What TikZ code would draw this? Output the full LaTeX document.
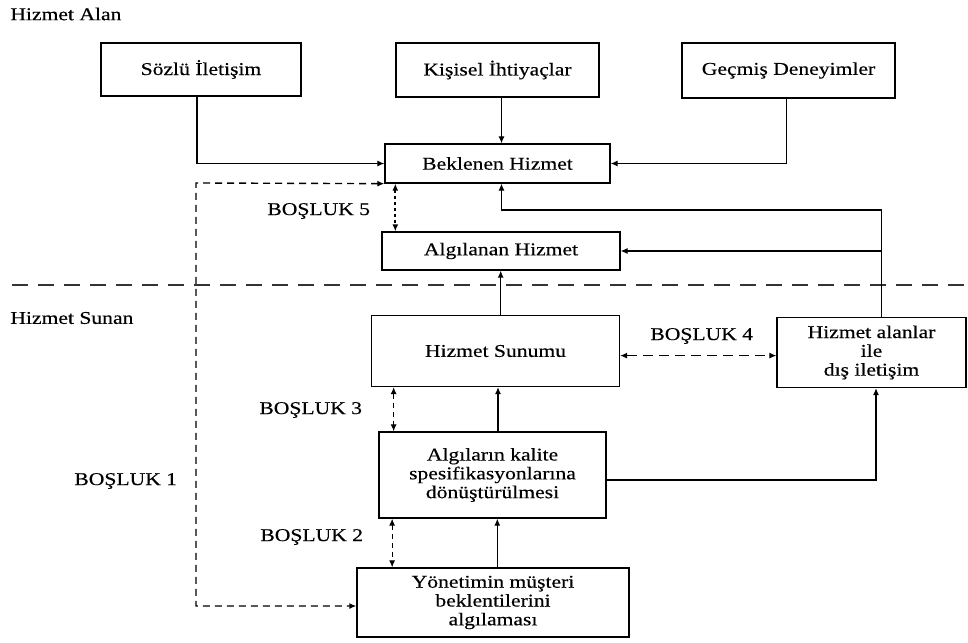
\documentclass[tikz,border=0pt]{standalone}
\usepackage{fontspec}
\setmainfont[FakeStretch=1.2,FakeBold=0.35]{Liberation Serif}
\usetikzlibrary{arrows.meta}
\newcommand{\lblfont}{\fontsize{9}{9.4}\selectfont}
\tikzset{
  box/.style={draw, line width=0.65pt, inner sep=1pt, align=center, font=\lblfont},
  lbl/.style={inner sep=0pt, anchor=west, font=\lblfont},
  tip/.style={-{Latex[length=3.5pt,width=3pt]}},
  arr/.style={line width=0.55pt, tip},
  twoway/.style={line width=0.55pt, {Latex[length=3.5pt,width=3pt]}-{Latex[length=3.5pt,width=3pt]}},
  gapone/.style={twoway, line width=0.7pt, dash pattern=on 3.5pt off 2.5pt},
  gapfive/.style={twoway, line width=1pt, dash pattern=on 1.5pt off 1.5pt},
  gapshort/.style={twoway, dash pattern=on 2.5pt off 2pt},
  gapfour/.style={twoway, dash pattern=on 5pt off 3pt},
  sepline/.style={line width=0.7pt, black!80, dash pattern=on 8pt off 5pt},
}
\begin{document}
\begin{tikzpicture}[x=0.5pt, y=-0.5pt]
\useasboundingbox (0,0) rectangle (968,642);

% side labels
\node[lbl] (halan) at (10,14) {Hizmet Alan};
\node[lbl] (hsunan) at (10,318) {Hizmet Sunan};

% boxes
\node[box, minimum width=100pt, minimum height=26.5pt] (soz) at (201,69.5) {Sözlü İletişim};
\node[box, minimum width=101.5pt, minimum height=27pt] (kis) at (497.5,70) {Kişisel İhtiyaçlar};
\node[box, minimum width=106.5pt, minimum height=27.5pt] (gec) at (788.5,70.5) {Geçmiş Deneyimler};
\node[box, minimum width=112.5pt, minimum height=19.5pt] (bek) at (497.5,163.5) {Beklenen Hizmet};
\node[box, minimum width=119pt, minimum height=19pt] (alg) at (501,251) {Algılanan Hizmet};
\node[box, minimum width=124pt, minimum height=35.5pt] (sun) at (495.5,351) {Hizmet Sunumu};
\node[box, minimum width=94.5pt, minimum height=35pt] (dis) at (871.5,352.5) {Hizmet alanlar\\ile\\dış iletişim};
\node[box, minimum width=113.5pt, minimum height=43pt] (kal) at (492.5,475) {Algıların kalite\\spesifikasyonlarına\\dönüştürülmesi};
\node[box, minimum width=136pt, minimum height=34.5pt] (yon) at (493,602.5) {Yönetimin müşteri\\beklentilerini\\algılaması};

% gap labels
\node[lbl] (b5) at (267,211) {BOŞLUK 5};
\node[lbl] (b4) at (650,336) {BOŞLUK 4};
\node[lbl] (b3) at (259,410) {BOŞLUK 3};
\node[lbl] (b1) at (74,481) {BOŞLUK 1};
\node[lbl] (b2) at (260,537) {BOŞLUK 2};

% boundary between the two sides
\coordinate (sepL) at (12,285);
\coordinate (sepR) at (968,285);
\draw[sepline] (sepL) -- (sepR);

% inputs to expected service
\draw[arr] ([xshift=-2pt]soz.south) |- (bek.west);
\draw[arr] ([xshift=2pt]kis.south) -- ([xshift=2pt]kis.south |- bek.north);
\draw[arr] ([xshift=-1pt]gec.south) |- (bek.east);

% external communication feedback
\coordinate (fb) at (881.5,210);
\draw[arr] (dis.north -| fb) -- (fb) -| ([xshift=2pt]bek.south);
\draw[arr] (fb |- alg.east) -- (alg.east);

% provider chain
\draw[arr] ([xshift=2.6pt]sun.north) -- ([xshift=2.6pt]sun.north |- alg.south);
\draw[arr] ([xshift=2.75pt]kal.north) -- ([xshift=2.75pt]kal.north |- sun.south);
\draw[arr] ([xshift=2.15pt]yon.north) -- ([xshift=2.15pt]yon.north |- kal.south);
\draw[arr] ([yshift=-2.5pt]kal.east) -| ([xshift=2.25pt]dis.south);

% gaps
\coordinate (g1a) at (196,183);
\coordinate (g1b) at (196,606);
\draw[gapone] (bek.south west) -- (g1a) -- (g1b) -- (g1b -| yon.west);
\draw[gapfive] ([xshift=5.5pt]bek.south west) -- ([xshift=5.5pt]bek.south west |- alg.north);
\draw[gapfour] ([yshift=-2.3pt]sun.east) -- ([yshift=-2.3pt]sun.east -| dis.west);
\draw[gapshort] ([xshift=11.4pt]sun.south west) -- ([xshift=11.4pt]sun.south west |- kal.north);
\draw[gapshort] ([xshift=6.9pt]kal.south west) -- ([xshift=6.9pt]kal.south west |- yon.north);
\end{tikzpicture}
\end{document}
